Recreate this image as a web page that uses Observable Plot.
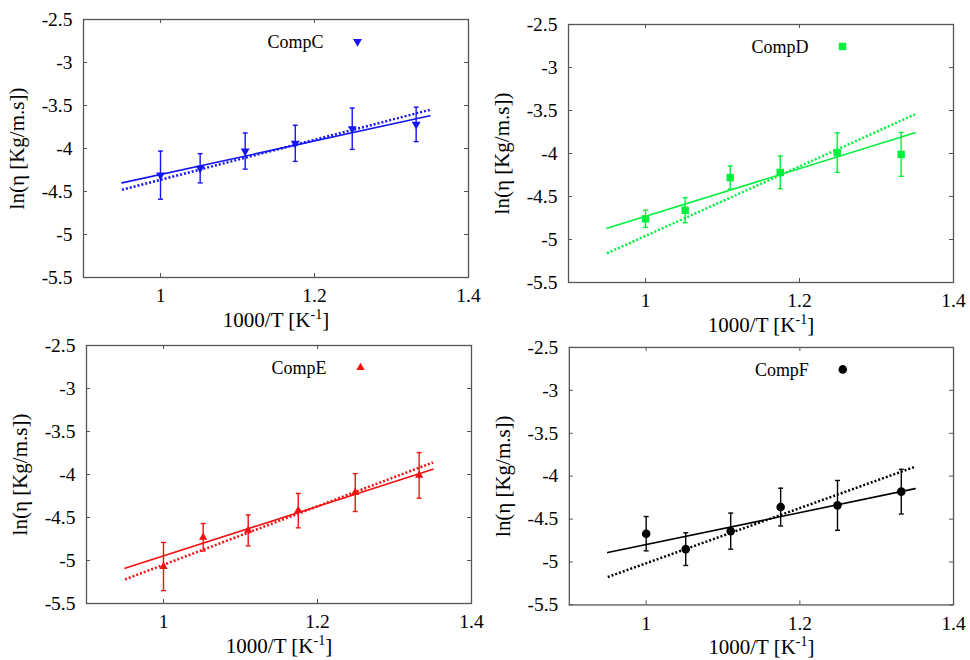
<!DOCTYPE html>
<html><head><meta charset="utf-8">
<script src="https://cdn.jsdelivr.net/npm/d3@7"></script>
<script src="https://cdn.jsdelivr.net/npm/@observablehq/plot@0.6"></script>
<style>
html,body{margin:0;padding:0;background:#fff;}
#wrap{position:relative;width:970px;height:660px;overflow:hidden;background:#fff;}
.panel{position:absolute;}
.panel svg{overflow:visible;}
</style></head><body><div id="wrap"></div>
<script>
// ---- data ----
const invT = [1.0, 1.0515, 1.11, 1.175, 1.249, 1.332];

const compC = [-4.31, -4.23, -4.03, -3.94, -3.77, -3.72];
const compCErr = [0.28, 0.17, 0.21, 0.21, 0.24, 0.20];
const compD = [-4.76, -4.66, -4.28, -4.22, -3.99, -4.01];
const compDErr = [0.10, 0.145, 0.135, 0.19, 0.23, 0.255];
const compE = [-5.07, -4.73, -4.65, -4.42, -4.21, -4.01];
const compEErr = [0.28, 0.16, 0.18, 0.20, 0.22, 0.265];
const compF = [-4.67, -4.85, -4.64, -4.36, -4.34, -4.18];
const compFErr = [0.20, 0.19, 0.21, 0.22, 0.29, 0.26];

const fitX = [0.95, 1.35];
const compCFit = [-4.40, -3.62];
const compCFitDotted = [-4.48, -3.55];
const compDFit = [-4.87, -3.76];
const compDFitDotted = [-5.16, -3.545];
const compEFit = [-5.09, -3.94];
const compEFitDotted = [-5.22, -3.86];
const compFFit = [-4.89, -4.145];
const compFFitDotted = [-5.175, -3.89];

const xTicks = [1, 1.2, 1.4];
const yTicks = [-2.5, -3, -3.5, -4, -4.5, -5, -5.5];
const xDomain = [0.9, 1.4];
const yDomain = [-5.5, -2.5];
const xLabelMain = "1000/T [K";
const xLabelSup = "-1";
const xLabelEnd = "]";
const yLabel = "ln(η [Kg/m.s])";

const panels = [
  {name: "CompC", y: compC, err: compCErr, fit: compCFit, fitDot: compCFitDotted, color: "#1414f4", symbol: "triangle", rotate: 180, r: 3.3, left: 0, top: 0},
  {name: "CompD", y: compD, err: compDErr, fit: compDFit, fitDot: compDFitDotted, color: "#00f03c", symbol: "square", rotate: 0, r: 4.2, left: 485, top: 5},
  {name: "CompE", y: compE, err: compEErr, fit: compEFit, fitDot: compEFitDotted, color: "#f01010", symbol: "triangle", rotate: 0, r: 3.1, left: 3, top: 326},
  {name: "CompF", y: compF, err: compFErr, fit: compFFit, fitDot: compFFitDotted, color: "#000000", symbol: "circle", rotate: 0, r: 4.3, left: 486, top: 328}
];

const capSymbol = {draw(ctx, size) { const w = Math.sqrt(size); ctx.moveTo(-w / 2, 0); ctx.lineTo(w / 2, 0); }};

const W = 485, H = 340, mL = 83, mR = 17, mT = 19, mB = 63;
const fw = W - mL - mR, fh = H - mT - mB;
const serif = "'Liberation Serif','Times New Roman',Times,serif";

function makePanel(p) {
  const pts = invT.map((x, i) => ({x, y: p.y[i], lo: p.y[i] - p.err[i], hi: p.y[i] + p.err[i]}));
  const solid = fitX.map((x, i) => ({x, y: p.fit[i]}));
  const dotted = fitX.map((x, i) => ({x, y: p.fitDot[i]}));
  const tickColor = "#555";
  const svg = Plot.plot({
    width: W, height: H, marginLeft: mL, marginRight: mR, marginTop: mT, marginBottom: mB,
    style: {fontFamily: serif, fontSize: "19px", background: "transparent", overflow: "visible", color: "#000"},
    x: {domain: xDomain},
    y: {domain: yDomain},
    marks: [
      Plot.axisX(xTicks, {tickSize: 0, tickPadding: 11, tickFormat: d => String(d), label: null, fontSize: 19.5}),
      Plot.axisY(yTicks, {tickSize: 0, tickPadding: 11, tickFormat: d => String(d), label: null, fontSize: 19.5}),
      Plot.tickY(yTicks, {y: d => d, insetRight: fw - 4, stroke: tickColor}),
      Plot.tickY(yTicks, {y: d => d, insetLeft: fw - 4, stroke: tickColor}),
      Plot.tickX(xTicks, {x: d => d, insetTop: fh - 4, stroke: tickColor}),
      Plot.tickX(xTicks, {x: d => d, insetBottom: fh - 4, stroke: tickColor}),
      Plot.frame({stroke: "#555", strokeWidth: 1.3}),
      Plot.line(solid, {x: "x", y: "y", stroke: p.color, strokeWidth: 1.6}),
      Plot.line(dotted, {x: "x", y: "y", stroke: p.color, strokeWidth: 2.5, strokeDasharray: "2,2", strokeLinecap: "butt"}),
      Plot.ruleX(pts, {x: "x", y1: "lo", y2: "hi", stroke: p.color, strokeWidth: 1.4}),
      Plot.dot(pts, {x: "x", y: "lo", symbol: capSymbol, r: 2.8, stroke: p.color, fill: "none", strokeWidth: 1.4}),
      Plot.dot(pts, {x: "x", y: "hi", symbol: capSymbol, r: 2.8, stroke: p.color, fill: "none", strokeWidth: 1.4}),
      Plot.dot(pts, {x: "x", y: "y", symbol: p.symbol, rotate: p.rotate, r: p.r, fill: p.color, stroke: "none"}),
      Plot.text([p.name], {text: d => d, frameAnchor: "top-left", dx: 240, dy: 16, textAnchor: "end", fontSize: 18, fill: "#000"}),
      Plot.dot([p.name], {frameAnchor: "top-left", dx: 274, dy: 22, symbol: p.symbol, rotate: p.rotate, r: p.r, fill: p.color, stroke: "none"}),
      Plot.text([yLabel], {text: d => d, frameAnchor: "left", dx: -66, rotate: -90, textAnchor: "middle", fontSize: 21, fill: "#000"}),
      Plot.text([xLabelMain + xLabelSup + xLabelEnd], {text: d => d, frameAnchor: "bottom", dy: 49, textAnchor: "middle", fontSize: 21, fill: "#000"})
    ]
  });
  // superscript in x label
  const ns = "http://www.w3.org/2000/svg";
  svg.querySelectorAll("text").forEach(t => {
    if (t.textContent === xLabelMain + xLabelSup + xLabelEnd) {
      t.textContent = "";
      const a = document.createElementNS(ns, "tspan"); a.textContent = xLabelMain;
      const b = document.createElementNS(ns, "tspan"); b.textContent = xLabelSup;
      b.setAttribute("font-size", "14"); b.setAttribute("dy", "-8");
      const c = document.createElementNS(ns, "tspan"); c.textContent = xLabelEnd; c.setAttribute("dy", "8");
      t.append(a, b, c);
    }
  });
  const div = document.createElement("div");
  div.className = "panel";
  div.style.left = p.left + "px";
  div.style.top = p.top + "px";
  div.appendChild(svg);
  document.getElementById("wrap").appendChild(div);
}
panels.forEach(makePanel);
</script>
</body></html>
